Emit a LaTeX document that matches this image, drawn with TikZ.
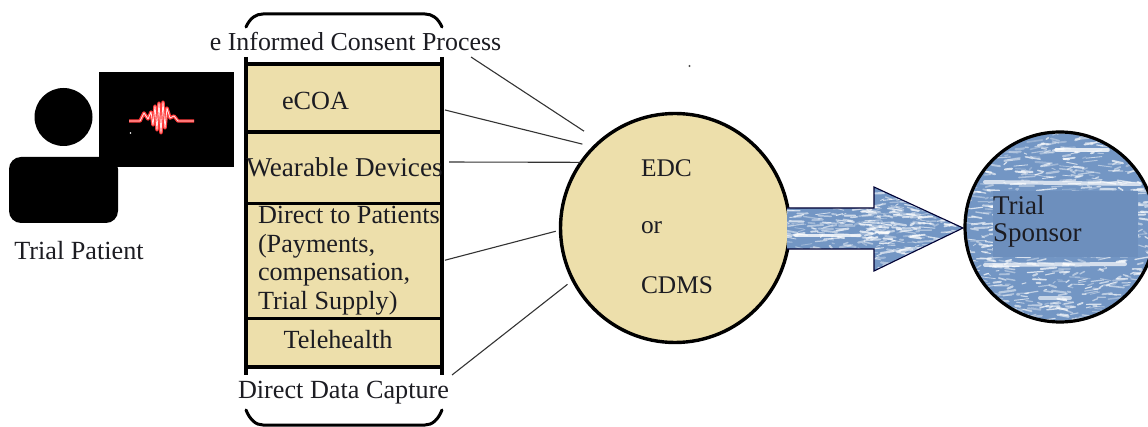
\documentclass[tikz,border=0pt]{standalone}
\usepackage{fontspec}
\setmainfont{Liberation Serif}
\definecolor{sand}{HTML}{EDDFAB}
\definecolor{steel}{HTML}{7396C4}
\definecolor{patch}{HTML}{6D8FBD}
\definecolor{ink}{HTML}{1C1C22}
\tikzset{
  label text/.style={text=ink,font=\fontsize{26.2}{30}\selectfont,inner sep=0pt,outer sep=0pt},
  cell/.style={fill=sand,draw=none,inner sep=0pt,outer sep=0pt,minimum width=196pt},
  rail/.style={black,line width=3.6pt},
  thinlink/.style={draw=black!80,line width=1.1pt},
  brace/.style={black,line width=3pt,line cap=round},
  streak/.style={white,line cap=round},
}
\newcommand{\speckle}[6]{% x0, y0, width, height, count, seed
  \pgfmathsetseed{#6}
  \foreach \i in {1,...,#5}{
    \pgfmathsetmacro{\px}{#1+rnd*#3}
    \pgfmathsetmacro{\py}{#2+rnd*#4}
    \pgfmathsetmacro{\pl}{2+rnd*14}
    \pgfmathsetmacro{\pd}{rnd*5-2.5}
    \pgfmathsetmacro{\pw}{0.7+rnd*1.5}
    \pgfmathsetmacro{\po}{0.25+rnd*0.5}
    \draw[streak,line width=\pw pt,opacity=\po] (\px,\py) -- ++(\pl,\pd);
  }
}
\begin{document}
\begin{tikzpicture}[x=1pt,y=-1pt]
\useasboundingbox (0,0) rectangle (1148,427);
% patient
\node[circle,fill=black,minimum size=58pt,inner sep=0pt] (head) at (63.5,117) {};
\node[rectangle,fill=black,rounded corners=12pt,minimum width=109pt,minimum height=66pt,inner sep=0pt] (body) at (63.5,190) {};
\node[rectangle,fill=black,minimum width=135pt,minimum height=95pt,inner sep=0pt] (monitor) at (166.5,119.5) {};
\draw[red!70!pink,line width=3.4pt,line join=round] (129,121) -- (140,121) -- (144,113) -- (148,119) -- (151,112) -- (153,125) -- (155,106) -- (157,130) -- (159,103) -- (161,133) -- (163,102) -- (165,128) -- (167,108) -- (170,118) -- (174,116) -- (178,121) -- (194,121);
\draw[white!65!pink,line width=0.8pt,line join=round] (129,121) -- (140,121) -- (144,113) -- (148,119) -- (151,112) -- (153,125) -- (155,106) -- (157,130) -- (159,103) -- (161,133) -- (163,102) -- (165,128) -- (167,108) -- (170,118) -- (174,116) -- (178,121) -- (194,121);
\fill[white] (130.5,133) circle (0.9pt);
\node[label text] (patient) at (79,251) {Trial Patient};
% stacked cells
\node[cell,minimum height=68pt] (ecoacell) at (344,98) {};
\node[cell,minimum height=71pt] (wearcell) at (344,167.5) {};
\node[cell,minimum height=115pt] (directcell) at (344,261) {};
\node[cell,minimum height=49pt] (telecell) at (344,343.5) {};
\draw[rail] (246,57) -- (246,375);
\draw[rail] (442,57) -- (442,375);
\foreach \yy in {64,132,203.5,318.5,367}{\draw[rail] (246,\yy) -- (442,\yy);}
% braces
\draw[brace] (246,27) .. controls (250,18) and (256,14) .. (263,14) -- (425,14) .. controls (432,14) and (438,18) .. (442,27);
\draw[brace] (246,410) .. controls (250,420) and (256,425) .. (263,425) -- (425,425) .. controls (432,425) and (438,420) .. (442,410);
% stack texts
\node[label text,font=\fontsize{25.9}{30}\selectfont] (consent) at (355.5,42) {e Informed Consent Process};
\node[label text] (ecoa) at (315.5,101) {eCOA};
\node[label text,font=\fontsize{27.2}{30}\selectfont] (wear) at (344.5,167) {Wearable Devices};
\node[label text,anchor=west] (d1) at (258,215) {Direct to Patients};
\node[label text,anchor=west] (d2) at (258,246) {(Payments,};
\node[label text,anchor=west] (d3) at (258,275) {compensation,};
\node[label text,anchor=west] (d4) at (258,303) {Trial Supply)};
\node[label text] (tele) at (338,340) {Telehealth};
\node[label text] (capture) at (343.5,392.5) {Direct Data Capture};
% EDC
\node[circle,draw=black,line width=3.4pt,fill=sand,minimum size=229pt,inner sep=0pt,outer sep=0pt] (edc) at (675,228) {};
\node[label text,anchor=west,font=\fontsize{25.4}{30}\selectfont] (edctxt) at (641,168) {EDC};
\node[label text,anchor=west,font=\fontsize{25.4}{30}\selectfont] (ortxt) at (641,228) {or};
\node[label text,anchor=west,font=\fontsize{25.4}{30}\selectfont] (cdmstxt) at (641,285) {CDMS};
% connectors
\coordinate (consenttail) at (471,57);
\coordinate (capturetail) at (452,375);
\draw[thinlink,shorten >=19pt] (consenttail) -- (edc.131.5);
\path (ecoacell.east) ++(3,12) coordinate (ecoatail);
\draw[thinlink,shorten >=12pt] (ecoatail) -- (edc.135);
\draw[thinlink,shorten <=7pt] ([yshift=5.5pt]wearcell.east) -- (edc.145);
\draw[thinlink,shorten <=3pt,shorten >=5pt] (directcell.east) -- (edc.181);
\draw[thinlink,shorten >=7pt] (capturetail) -- (edc.207);
% block arrow
\begin{scope}
  \path[clip] (787,208) -- (874,208) -- (874,187) -- (963,228) -- (874,271) -- (874,249) -- (787,249) -- cycle;
  \fill[steel] (780,180) rectangle (970,280);
  \speckle{775}{205}{185}{46}{260}{11}
  \speckle{860}{187}{60}{84}{90}{12}
  \draw[streak,line width=3pt,opacity=.8] (795,236) -- (860,236);
\end{scope}
\draw[draw=black!80!blue,line width=1.1pt,line join=miter] (787,208) -- (874,208) -- (874,187) -- (963,228) -- (874,271) -- (874,249) -- (787,249);
% sponsor
\node[circle,fill=steel,minimum size=190pt,inner sep=0pt,outer sep=0pt] (sponsor) at (1060,227) {};
\begin{scope}
  \clip (1060,227) circle (95);
  \speckle{955}{132}{200}{190}{800}{7}
  \draw[streak,line width=3.5pt,opacity=.8] (1056,150) -- (1108,150);
  \draw[streak,line width=4pt,opacity=.7] (985,182) -- (1140,184);
  \draw[streak,line width=4pt,opacity=.7] (985,265) -- (1125,264);
  \draw[streak,line width=4pt,opacity=.6] (1040,298) -- (1070,298);
\end{scope}
\node[fill=patch,minimum width=145pt,minimum height=66pt,inner sep=0pt,outer sep=0pt] (patchbox) at (1065.5,224) {};
\draw[black,line width=3.2pt] (sponsor) circle (95);
\node[label text,anchor=west,font=\fontsize{27}{30}\selectfont] (sp1) at (993,205) {Trial};
\node[label text,anchor=west,font=\fontsize{27}{30}\selectfont] (sp2) at (993,235) {Sponsor};
% stray mark
\fill[black!70] (689.5,66) circle (1.1pt);
\end{tikzpicture}
\end{document}
